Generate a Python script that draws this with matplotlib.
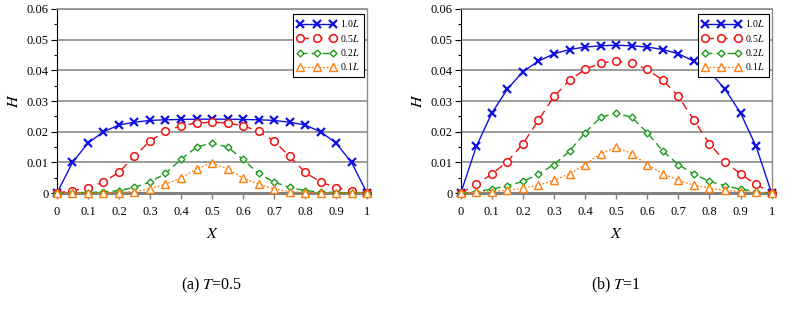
import numpy as np
import matplotlib.pyplot as plt
from matplotlib.ticker import MultipleLocator

plt.rcParams['font.family'] = ['Liberation Serif', 'DejaVu Serif']
plt.rcParams['mathtext.fontset'] = 'stix'

# Данные: X от 0 до 1 с шагом 0.05
x = [0, 0.05, 0.1, 0.15, 0.2, 0.25, 0.3, 0.35, 0.4, 0.45, 0.5,
     0.55, 0.6, 0.65, 0.7, 0.75, 0.8, 0.85, 0.9, 0.95, 1]
labels = ['1.0$\\mathit{L}$', '0.5$\\mathit{L}$', '0.2$\\mathit{L}$', '0.1$\\mathit{L}$']

# (a) T=0.5
h_a_10 = [0, 0.0100, 0.0163, 0.0200, 0.0222, 0.0231, 0.0237, 0.0239, 0.0240, 0.0241, 0.0241,
          0.0241, 0.0240, 0.0239, 0.0237, 0.0231, 0.0222, 0.0200, 0.0163, 0.0100, 0]
h_a_05 = [0, 0.0008, 0.0018, 0.0036, 0.0068, 0.0120, 0.0170, 0.0201, 0.0220, 0.0228, 0.0231,
          0.0228, 0.0220, 0.0201, 0.0170, 0.0120, 0.0068, 0.0036, 0.0018, 0.0008, 0]
h_a_02 = [0, 0.0001, 0.0002, 0.0004, 0.0008, 0.0019, 0.0036, 0.0064, 0.0110, 0.0150, 0.0163,
          0.0150, 0.0110, 0.0064, 0.0036, 0.0019, 0.0008, 0.0004, 0.0002, 0.0001, 0]
h_a_01 = [0, 0.0000, 0.0000, 0.0001, 0.0002, 0.0005, 0.0014, 0.0029, 0.0049, 0.0079, 0.0099,
          0.0079, 0.0049, 0.0029, 0.0014, 0.0005, 0.0002, 0.0001, 0.0000, 0.0000, 0]

# (b) T=1
h_b_10 = [0, 0.0152, 0.0261, 0.0339, 0.0396, 0.0430, 0.0454, 0.0468, 0.0476, 0.0480, 0.0482,
          0.0480, 0.0476, 0.0468, 0.0454, 0.0430, 0.0396, 0.0339, 0.0261, 0.0152, 0]
h_b_05 = [0, 0.0029, 0.0062, 0.0103, 0.0161, 0.0238, 0.0315, 0.0368, 0.0403, 0.0424, 0.0430,
          0.0424, 0.0403, 0.0368, 0.0315, 0.0238, 0.0161, 0.0103, 0.0062, 0.0029, 0]
h_b_02 = [0, 0.0005, 0.0013, 0.0024, 0.0038, 0.0062, 0.0093, 0.0137, 0.0197, 0.0247, 0.0261,
          0.0247, 0.0197, 0.0137, 0.0093, 0.0062, 0.0038, 0.0024, 0.0013, 0.0005, 0]
h_b_01 = [0, 0.0003, 0.0005, 0.0009, 0.0016, 0.0026, 0.0042, 0.0063, 0.0093, 0.0129, 0.0149,
          0.0129, 0.0093, 0.0063, 0.0042, 0.0026, 0.0016, 0.0009, 0.0005, 0.0003, 0]

captions = ['(a) $\\mathit{T}$=0.5', '(b) $\\mathit{T}$=1']

styles = [
    dict(color='#1010e0', ls='-', lw=1.0, marker='x', ms=5.5, mew=1.6),
    dict(color='#ee1111', ls=(0, (6, 4)), lw=1.0, marker='o', ms=5.5, mew=1.1, mfc='white'),
    dict(color='#1a9a1a', ls=(0, (5, 3)), lw=1.0, marker='D', ms=3.5, mew=1.0, mfc='white'),
    dict(color='#ff7f0e', ls=(0, (1.5, 1.5)), lw=0.9, marker='^', ms=5.5, mew=1.0, mfc='white'),
]

fig = plt.figure(figsize=(7.89, 3.10), dpi=100)
ax_a = fig.add_axes([0.0722, 0.377, 0.393, 0.594])
ax_b = fig.add_axes([0.584, 0.377, 0.394, 0.594])

data = [[h_a_10, h_a_05, h_a_02, h_a_01], [h_b_10, h_b_05, h_b_02, h_b_01]]

for ax, series, cap in zip([ax_a, ax_b], data, captions):
    for y, st, lab in zip(series, styles, labels):
        ax.plot(x, y, label=lab, clip_on=False, zorder=3, **st)
    ax.set_xlim(0, 1)
    ax.set_ylim(0, 0.06)
    ax.yaxis.set_minor_locator(MultipleLocator(0.005))
    ax.set_yticks([0, 0.01, 0.02, 0.03, 0.04, 0.05, 0.06])
    ax.set_yticklabels(['0', '0.01', '0.02', '0.03', '0.04', '0.05', '0.06'])
    ax.set_xticks(np.arange(0, 1.01, 0.1))
    ax.set_xticklabels(['0', '0.1', '0.2', '0.3', '0.4', '0.5', '0.6', '0.7', '0.8', '0.9', '1'])
    ax.grid(axis='y', which='major', color='#8c8c8c', lw=1.2)
    ax.set_axisbelow(True)
    ax.tick_params(axis='y', which='major', direction='out', length=4, width=0.8, labelsize=9, pad=2)
    ax.tick_params(axis='y', which='minor', direction='out', length=2.5, width=0.8)
    ax.tick_params(axis='x', which='major', direction='out', length=4, width=1.0, color='#808080',
                   labelsize=9, pad=5)
    ax.spines['left'].set_color('black')
    ax.spines['left'].set_linewidth(0.8)
    ax.spines['bottom'].set_color('#808080')
    ax.spines['bottom'].set_linewidth(2.2)
    ax.spines['top'].set_color('#8c8c8c')
    ax.spines['top'].set_linewidth(1.2)
    ax.spines['right'].set_color('#8c8c8c')
    ax.spines['right'].set_linewidth(1.0)
    ax.set_xlabel('$\\mathit{X}$', fontsize=11.5, labelpad=6)
    ax.set_ylabel('$\\mathit{H}$', fontsize=11.5, labelpad=3)
    leg = ax.legend(loc='upper right', bbox_to_anchor=(1.0, 0.99), fontsize=7, numpoints=3,
                    handlelength=4.0, handletextpad=0.4, borderpad=0.45, labelspacing=0.35,
                    fancybox=False, framealpha=1, edgecolor='black', borderaxespad=0.3)
    leg.get_frame().set_linewidth(0.8)
    ax.text(0.5, -0.5, cap, transform=ax.transAxes, ha='center', va='center', fontsize=11.5)

fig.savefig('out.png', dpi=100)
